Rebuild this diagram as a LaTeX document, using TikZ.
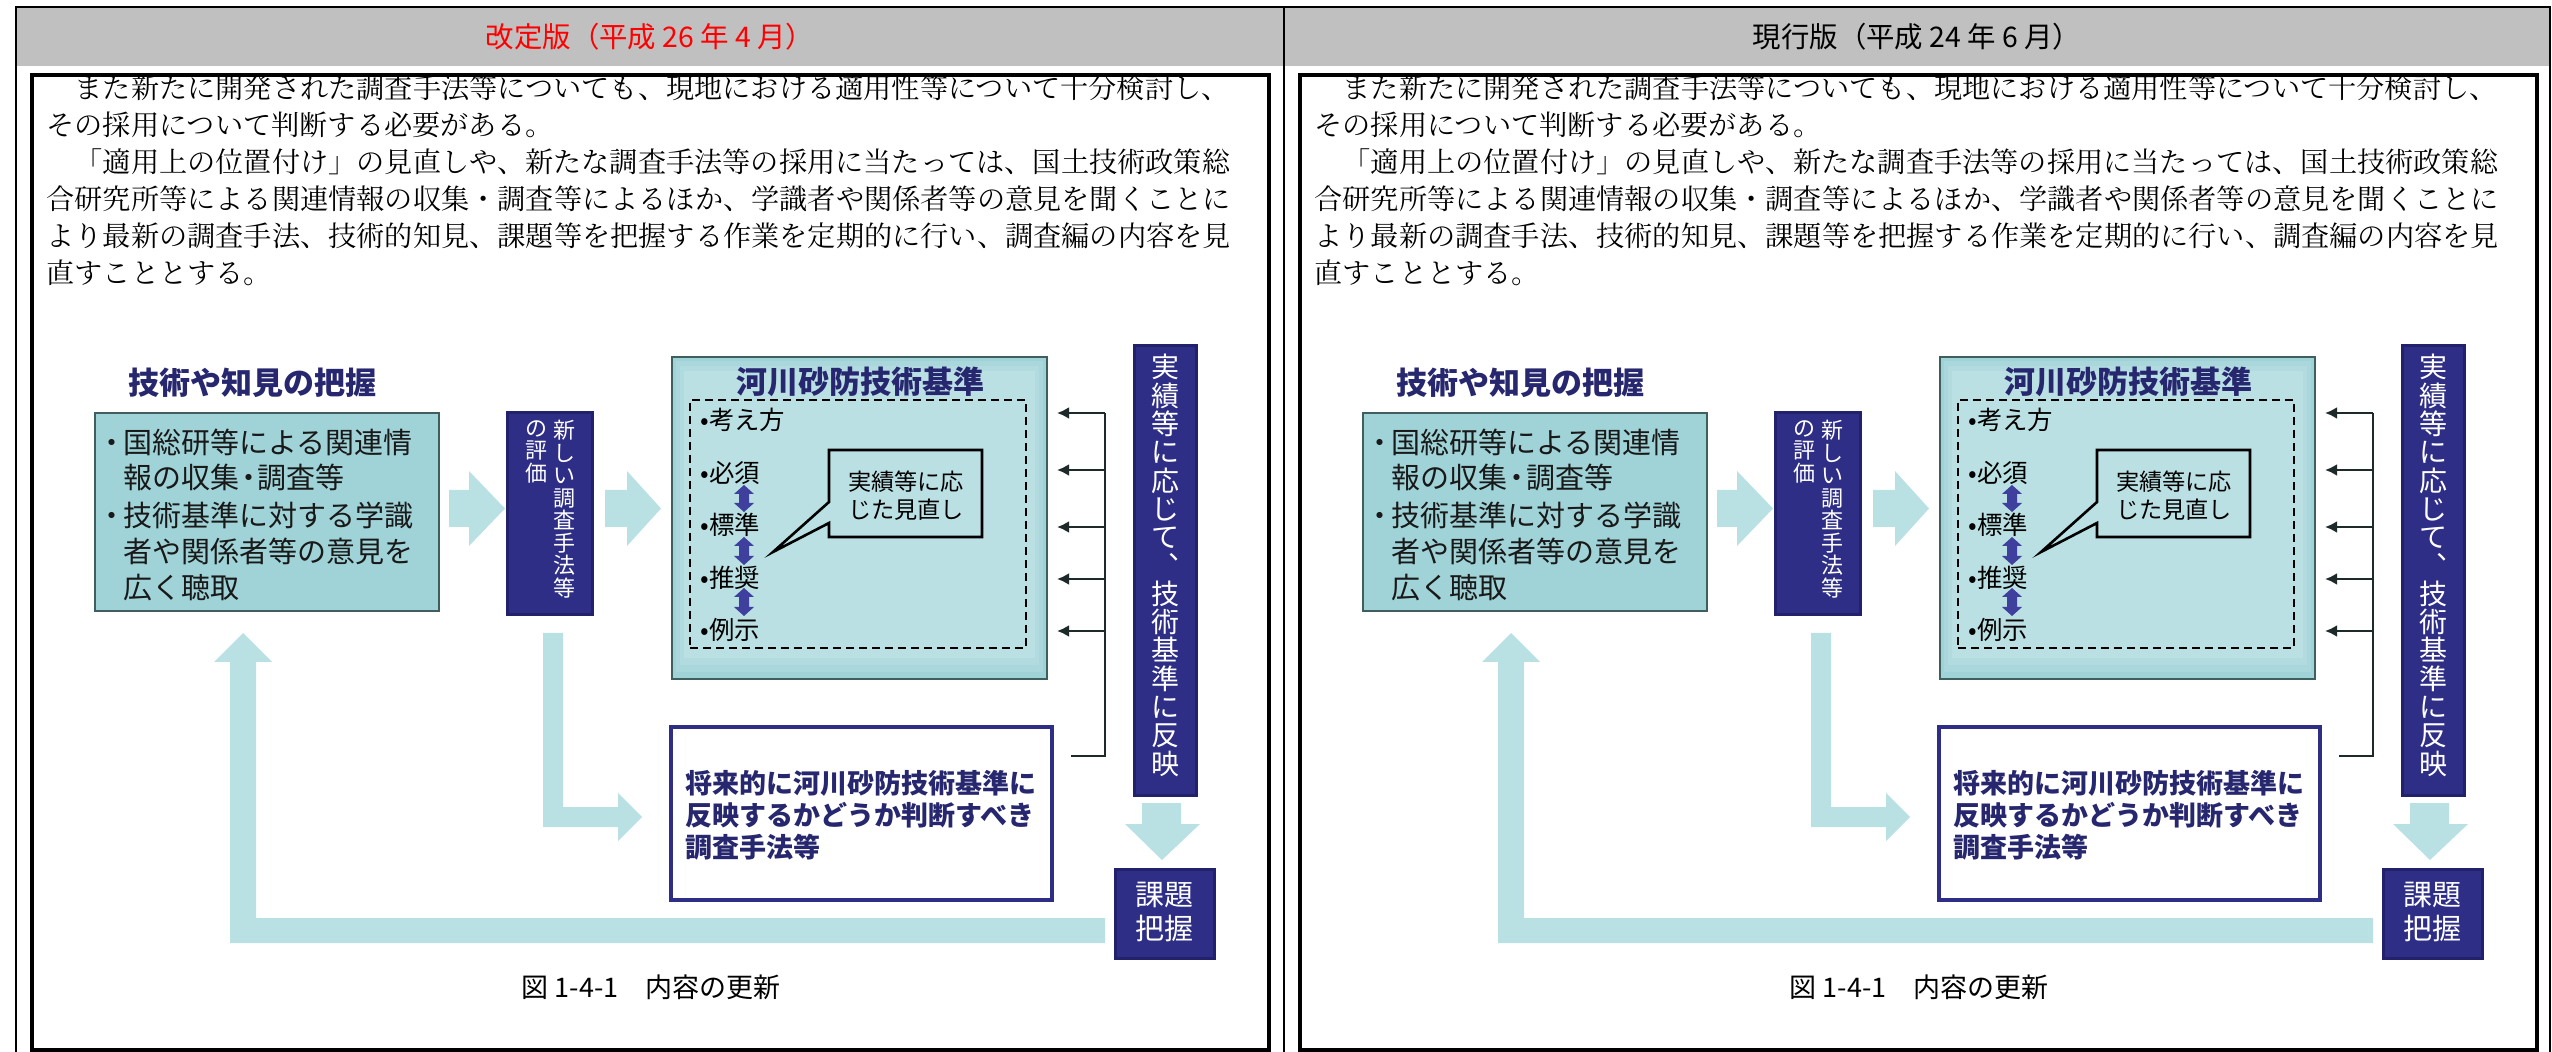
\documentclass[tikz,border=0pt]{standalone}
\usepackage{fontspec}
\setmainfont{Noto Sans CJK JP}
\IfFontExistsTF{Noto Serif CJK JP}{\newfontfamily\mincho{Noto Serif CJK JP}}{\newfontfamily\mincho{Noto Sans CJK JP}}
\newfontfamily\gothic{Noto Sans CJK JP}
\usetikzlibrary{arrows.meta,calc}
\definecolor{hdrgray}{HTML}{C0C0C0}
\definecolor{navy}{HTML}{2E2E87}
\definecolor{navyedge}{HTML}{22226C}
\definecolor{titlenavy}{HTML}{27276F}
\definecolor{teal}{HTML}{A0D3D7}
\definecolor{tealedge}{HTML}{3F5F5F}
\definecolor{arrowc}{HTML}{B9E1E4}
\definecolor{kkA}{HTML}{A9D7DB}
\definecolor{kkB}{HTML}{B1DBDE}
\definecolor{kkC}{HTML}{BAE0E3}
\definecolor{dblc}{HTML}{3F3F9E}
\definecolor{brc}{HTML}{1E2A2A}
\tikzset{
  hdrtxt/.style={inner sep=0, font=\gothic\fontsize{14.2pt}{16pt}\selectfont},
  outerline/.style={line width=1pt, black},
  innerframe/.style={line width=1.75pt, black},
  bodytxt/.style={anchor=west, inner sep=0, font=\mincho\fontsize{14.1pt}{16pt}\selectfont},
  titletxt/.style={inner sep=0, text=titlenavy, font=\gothic\bfseries\fontsize{15.5pt}{16pt}\selectfont},
  tealbox/.style={draw=tealedge, fill=teal, line width=1pt, inner sep=0},
  navybox/.style={draw=navyedge, fill=navy, line width=1.5pt, inner sep=0},
  kbtxt/.style={anchor=west, inner sep=0, text=black!90, font=\gothic\fontsize{14.5pt}{16pt}\selectfont},
  vtxt/.style={anchor=north, inner sep=0, align=center, text=white},
  dashbox/.style={draw=black, dash pattern=on 4pt off 2.5pt, line width=0.7pt, inner sep=0},
  itemtxt/.style={anchor=west, inner sep=0, text=black, font=\gothic\fontsize{12.7pt}{14pt}\selectfont},
  callout/.style={draw=black, fill=kkC, line width=1.3pt, line join=miter},
  callouttxt/.style={inner sep=0, align=left, font=\gothic\fontsize{11.6pt}{14pt}\selectfont},
  brline/.style={draw=brc, line width=1.25pt},
  fubox/.style={draw=navy, fill=white, line width=2pt, inner sep=0},
  futxt/.style={anchor=west, inner sep=0, text=titlenavy, font=\gothic\bfseries\fontsize{13.5pt}{16pt}\selectfont},
  captxt/.style={inner sep=0, font=\gothic\fontsize{13.5pt}{16pt}\selectfont},
  arrowfill/.style={fill=arrowc, draw=none},
}
\newcommand\dblarrow[2]{%
  \fill[dblc] (744,#1) -- (754,#1+9) -- (749,#1+9) -- (749,#2-9) -- (754,#2-9) -- (744,#2)
    -- (734,#2-9) -- (739,#2-9) -- (739,#1+9) -- (734,#1+9) -- cycle;}
\newcommand\panelbody{%
  \draw[innerframe] (32,75) rectangle (1269,1050);
  % paragraph
  \node[bodytxt] (p1) at (46,88) {　また新たに開発された調査手法等についても、現地における適用性等について十分検討し、};
  \node[bodytxt] (p2) at (46,125) {その採用について判断する必要がある。};
  \node[bodytxt] (p3) at (46,162) {　「適用上の位置付け」の見直しや、新たな調査手法等の採用に当たっては、国土技術政策総};
  \node[bodytxt] (p4) at (46,199) {合研究所等による関連情報の収集・調査等によるほか、学識者や関係者等の意見を聞くことに};
  \node[bodytxt] (p5) at (46,236) {より最新の調査手法、技術的知見、課題等を把握する作業を定期的に行い、調査編の内容を見};
  \node[bodytxt] (p6) at (46,273) {直すこととする。};
  % light block arrows
  \fill[arrowfill] (449,490) -- (469,490) -- (469,471) -- (505,508.5) -- (469,546) -- (469,527) -- (449,527) -- cycle;
  \fill[arrowfill] (605,490) -- (627,490) -- (627,471) -- (661,508.5) -- (627,546) -- (627,527) -- (605,527) -- cycle;
  \fill[arrowfill] (1105,918) -- (256,918) -- (256,662) -- (272,662) -- (243,633) -- (214,662) -- (230,662) -- (230,943) -- (1105,943) -- cycle;
  \fill[arrowfill] (543,633) -- (563,633) -- (563,807) -- (618,807) -- (618,793) -- (642,817) -- (618,841) -- (618,827) -- (543,827) -- cycle;
  \fill[arrowfill] (1142,803) -- (1181,803) -- (1181,824) -- (1200,824) -- (1162,860) -- (1125,824) -- (1142,824) -- cycle;
  % left teal box
  \node[titletxt] (ttl) at (252,383) {技術や知見の把握};
  \node[tealbox, minimum width=172pt, minimum height=99pt] (kb) at (267,512) {};
  \node[kbtxt] (k1) at (123,442) {\llap{・\kern-.12em}国総研等による関連情};
  \node[kbtxt] (k2) at (123,477) {報の収集\kern-.18em・\kern-.18em調査等};
  \node[kbtxt] (k3) at (123,515) {\llap{・\kern-.12em}技術基準に対する学識};
  \node[kbtxt] (k4) at (123,551) {者や関係者等の意見を};
  \node[kbtxt] (k5) at (123,588) {広く聴取};
  % navy evaluation box
  \node[navybox, minimum width=42.5pt, minimum height=101pt] (ev) at (549.5,514) {};
  \node[vtxt, font=\gothic\fontsize{11pt}{11.25pt}\selectfont] (ev1) at (564,420) {新\\し\\い\\調\\査\\手\\法\\等};
  \node[vtxt, font=\gothic\fontsize{11pt}{11.25pt}\selectfont] (ev2) at (536,420) {の\\評\\価};
  % standards box
  \node[tealbox, fill=teal, minimum width=187.5pt, minimum height=161pt] (kk) at (859.5,518) {};
  \fill[kkA] (676,361) rectangle (1043,672);
  \fill[kkB] (680,366) rectangle (1039,665);
  \fill[kkC] (684,371) rectangle (1035,658);
  \node[titletxt] (kt) at (860,382) {河川砂防技術基準};
  \node[dashbox, minimum width=168pt, minimum height=124pt] (db) at (858,524) {};
  \node[itemtxt] (i1) at (700,420) {•考え方};
  \node[itemtxt] (i2) at (700,473) {•必須};
  \node[itemtxt] (i3) at (700,525) {•標準};
  \node[itemtxt] (i4) at (700,578) {•推奨};
  \node[itemtxt] (i5) at (700,630) {•例示};
  \dblarrow{485}{512}
  \dblarrow{537}{565}
  \dblarrow{588}{616}
  \path[callout] (829,450) -- (982,450) -- (982,537) -- (829,537) -- (829,523) -- (773,552) -- (829,502) -- cycle;
  \node[callouttxt] (co) at (906,496) {実績等に応\\じた見直し};
  % bracket with arrows
  \coordinate (brtop) at (1105,413);
  \coordinate (brbot) at (1105,756);
  \coordinate (brend) at (1071,756);
  \draw[brline] (brtop) -- (brbot) -- (brend);
  \foreach \yy in {413,470,527,579,631}
    \draw[brline, -{Latex[length=6pt,width=6pt]}] (1105,\yy) -- (1057,\yy);
  % future box
  \node[fubox, minimum width=190.5pt, minimum height=86.5pt] (fu) at (861.5,813.5) {};
  \node[futxt] (f1) at (685,783) {将来的に河川砂防技術基準に};
  \node[futxt] (f2) at (685,815) {反映するかどうか判断すべき};
  \node[futxt] (f3) at (685,847) {調査手法等};
  % vertical navy box
  \node[navybox, minimum width=31pt, minimum height=224.5pt] (jz) at (1165,570.5) {};
  \node[vtxt, font=\gothic\fontsize{14pt}{14.15pt}\selectfont] (jzt) at (1165,354) {実\\績\\等\\に\\応\\じ\\て\\︑\\技\\術\\基\\準\\に\\反\\映};
  % issue box
  \node[navybox, minimum width=49.5pt, minimum height=44.5pt] (kd) at (1164.5,913.5) {};
  \node[inner sep=0, align=center, text=white, font=\gothic\fontsize{14.5pt}{17pt}\selectfont] (kdt) at (1164.5,912) {課題\\把握};
  % caption
  \node[captxt] (cap) at (651,987) {図 1-4-1　内容の更新};
}
\begin{document}
\begin{tikzpicture}[x=0.5pt,y=-0.5pt]
\useasboundingbox (0,0) rectangle (2552,1052);
\fill[white] (0,0) rectangle (2552,1052);
\fill[hdrgray] (16,7) rectangle (1284,66);
\fill[hdrgray] (1284,7) rectangle (2550,66);
\node[hdrtxt, text=red] (hL) at (650,37) {改定版（平成 26 年 4 月）};
\node[hdrtxt, text=black] (hR) at (1917,37) {現行版（平成 24 年 6 月）};
\draw[outerline] (16,1052) -- (16,7) -- (2550,7) -- (2550,1052);
\draw[outerline] (1284,7) -- (1284,1052);
\begin{scope}[name prefix=L-]
  \panelbody
\end{scope}
\begin{scope}[xshift=634pt, name prefix=R-]
  \panelbody
\end{scope}
\end{tikzpicture}
\end{document}
